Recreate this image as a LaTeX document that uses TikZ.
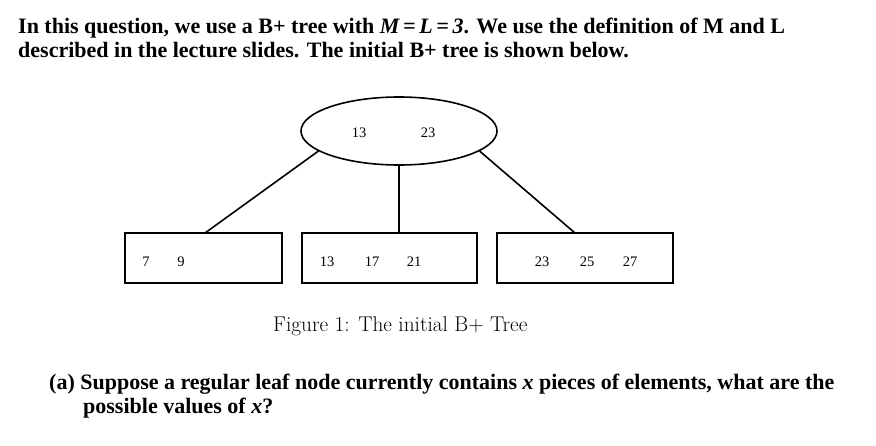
\documentclass[tikz,border=0pt]{standalone}
\usepackage{fontspec}
\newfontfamily\tnr{Liberation Serif}
\usetikzlibrary{shapes.geometric}
\tikzset{
  leaf/.style={draw, line width=1.6pt, minimum height=50pt, inner sep=0pt},
  inner/.style={draw, ellipse, line width=1.6pt, minimum width=196pt, minimum height=68pt, inner sep=0pt},
  key/.style={font=\tnr\fontsize{14.5}{16}\selectfont, inner sep=0pt},
  edge/.style={line width=1.6pt},
  qtext/.style={anchor=base west, inner sep=0pt, font=\tnr\bfseries\fontsize{22}{24}\selectfont},
  figcap/.style={anchor=base west, inner sep=0pt, font=\fontsize{21.3}{24}\selectfont}
}
\begin{document}
\begin{tikzpicture}[x=1pt,y=-1pt]
\useasboundingbox (0,0) rectangle (876,445);
\node[qtext] (t1) at (18,33) {In this question, we use a B+ tree with {\itshape M\,=\,L\,=\,3}. We use the definition of M and L};
\node[qtext] (t2) at (18,57) {described in the lecture slides. The initial B+ tree is shown below.};

\node[inner] (root) at (399,131) {};
\node[key] (r1) at (359,133) {13};
\node[key] (r2) at (428,133) {23};

\node[leaf, minimum width=157pt] (l1) at (203.5,258) {};
\node[leaf, minimum width=175pt] (l2) at (389.5,258) {};
\node[leaf, minimum width=176pt] (l3) at (585,258) {};

\node[key] (a1) at (146,262) {7};
\node[key] (a2) at (181,262) {9};
\node[key] (b1) at (327,262) {13};
\node[key] (b2) at (372,262) {17};
\node[key] (b3) at (414,262) {21};
\node[key] (c1) at (542,262) {23};
\node[key] (c2) at (587,262) {25};
\node[key] (c3) at (630,262) {27};

\coordinate (p1) at (205,233);
\coordinate (p3) at (575,233);
\draw[edge] (root.194) -- (p1);
\draw[edge] (root.south) -- (l2.north -| root.south);
\draw[edge] (root.346) -- (p3);

\node[figcap] (fig) at (273,331) {Figure 1: The initial B+ Tree};

\node[qtext] (q1) at (49,389) {(a) Suppose a regular leaf node currently contains {\itshape x} pieces of elements, what are the};
\node[qtext] (q2) at (83,413) {possible values of {\itshape x}?};
\end{tikzpicture}
\end{document}
